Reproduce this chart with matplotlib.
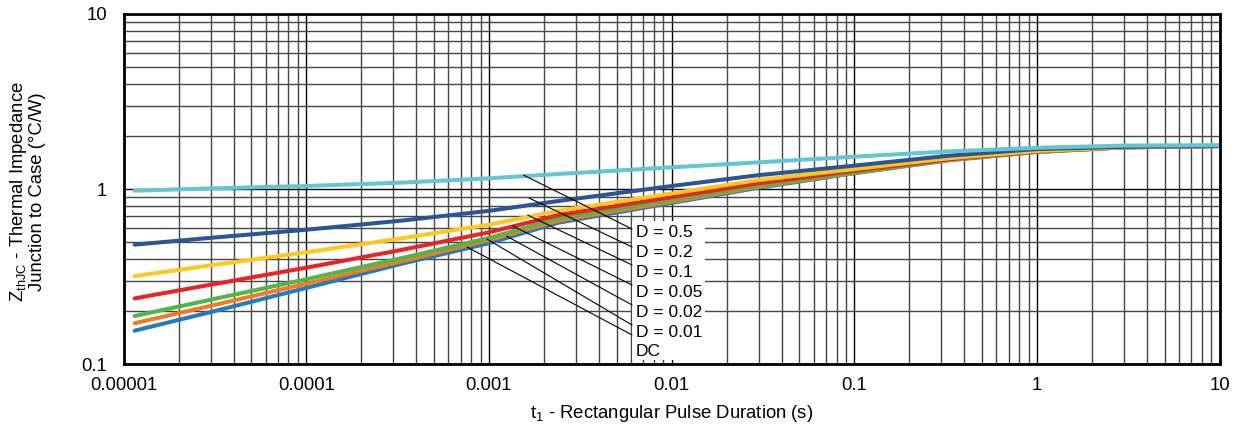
import matplotlib
matplotlib.use("Agg")
import matplotlib.pyplot as plt
from matplotlib.patches import Rectangle

plt.rcParams['font.family'] = ['Liberation Sans', 'DejaVu Sans']
plt.rcParams['mathtext.fontset'] = 'custom'
plt.rcParams['mathtext.rm'] = 'Liberation Sans'

# pulse duration (s)
t_pulse = [1.15e-5, 3e-5, 1e-4, 3.3e-4, 1e-3, 2.4e-3, 1e-2, 3e-2, 0.1, 0.33, 1, 3, 10]

# thermal impedance (°C/W) per duty cycle
z_dc = [0.155, 0.198, 0.272, 0.373, 0.49, 0.642, 0.832, 1.017, 1.23, 1.46, 1.63, 1.73, 1.76]
z_001 = [0.171, 0.215, 0.288, 0.385, 0.51, 0.659, 0.846, 1.03, 1.235, 1.465, 1.63, 1.73, 1.76]
z_002 = [0.188, 0.233, 0.305, 0.402, 0.525, 0.681, 0.865, 1.045, 1.24, 1.47, 1.63, 1.73, 1.76]
z_005 = [0.237, 0.284, 0.355, 0.448, 0.565, 0.71, 0.898, 1.078, 1.27, 1.48, 1.64, 1.73, 1.76]
z_01 = [0.318, 0.366, 0.435, 0.522, 0.625, 0.751, 0.943, 1.126, 1.30, 1.50, 1.65, 1.73, 1.76]
z_02 = [0.481, 0.526, 0.585, 0.659, 0.75, 0.854, 1.04, 1.20, 1.36, 1.55, 1.69, 1.74, 1.76]
z_05 = [0.978, 1.008, 1.04, 1.087, 1.15, 1.218, 1.33, 1.42, 1.53, 1.64, 1.72, 1.77, 1.78]

series = [z_dc, z_001, z_002, z_005, z_01, z_02, z_05]
colors = ['#1F7BC6', '#F47A22', '#4DB748', '#EC2227', '#FFC81C', '#2C5596', '#62C7D3']

labels = ['D = 0.5', 'D = 0.2', 'D = 0.1', 'D = 0.05', 'D = 0.02', 'D = 0.01', 'DC']
# leader line start points on the curves (data coords)
lead_x = [1.55e-3, 1.66e-3, 1.63e-3, 1.35e-3, 1.25e-3, 9.75e-4, 7.6e-4]
lead_y = [1.20, 0.888, 0.71, 0.615, 0.538, 0.518, 0.466]
# leader end / label positions (axes fraction)
lead_end_y = [0.3857, 0.3343, 0.2829, 0.2257, 0.1686, 0.1114, 0.0829]
label_y = [0.3757, 0.3186, 0.2620, 0.2049, 0.1477, 0.0906, 0.0351]

xticks = [1e-5, 1e-4, 1e-3, 1e-2, 1e-1, 1, 10]
xtick_labels = ['0.00001', '0.0001', '0.001', '0.01', '0.1', '1', '10']
yticks = [0.1, 1, 10]
ytick_labels = ['0.1', '1', '10']

fig = plt.figure(figsize=(12.34, 4.32), dpi=100)
ax = fig.add_axes([0.1001, 0.1574, 0.8882, 0.8102])
ax.set_xscale('log')
ax.set_yscale('log')
ax.set_xlim(1e-5, 10)
ax.set_ylim(0.1, 10)

for z, c in zip(series, colors):
    ax.plot(t_pulse, z, color=c, lw=2.9, solid_capstyle='round', zorder=2)

ax.set_axisbelow(True)
ax.grid(which='major', color='black', lw=1.0)
ax.grid(which='minor', color='0.28', lw=1.0)

ax.set_xticks(xticks)
ax.set_xticklabels(xtick_labels)
ax.set_yticks(yticks)
ax.set_yticklabels(ytick_labels)
ax.tick_params(which='both', length=0, labelsize=13.3)
ax.tick_params(axis='x', pad=9)
ax.tick_params(axis='y', pad=12)
for s in ax.spines.values():
    s.set_linewidth(2.0)
    s.set_zorder(6)

# white label box
ax.add_patch(Rectangle((0.464, 0.011), 0.0666, 0.398, transform=ax.transAxes,
                       facecolor='white', edgecolor='none', zorder=4))
for lab, lx, ly, ey, ty in zip(labels, lead_x, lead_y, lead_end_y, label_y):
    ax.annotate('', xy=(0.464, ey), xycoords='axes fraction',
                xytext=(lx, ly), textcoords='data',
                arrowprops=dict(arrowstyle='-', color='black', lw=0.8,
                                shrinkA=0, shrinkB=0), zorder=5)
    ax.text(0.4676, ty, lab, transform=ax.transAxes, fontsize=12.5,
            va='center', ha='left', zorder=5)

fig.text(0.5446, 1 - 413 / 432, r't$_{\mathregular{1}}$ - Rectangular Pulse Duration (s)',
         ha='center', va='center', fontsize=13.3)
fig.text(0.022, 1 - 192 / 432,
         'Z$_{\\mathregular{thJC}}$ - Thermal Impedance\nJunction to Case (°C/W)',
         rotation=90, ha='center', va='center', multialignment='center',
         fontsize=13.3, linespacing=1.0)

fig.savefig('out.png', dpi=100)
